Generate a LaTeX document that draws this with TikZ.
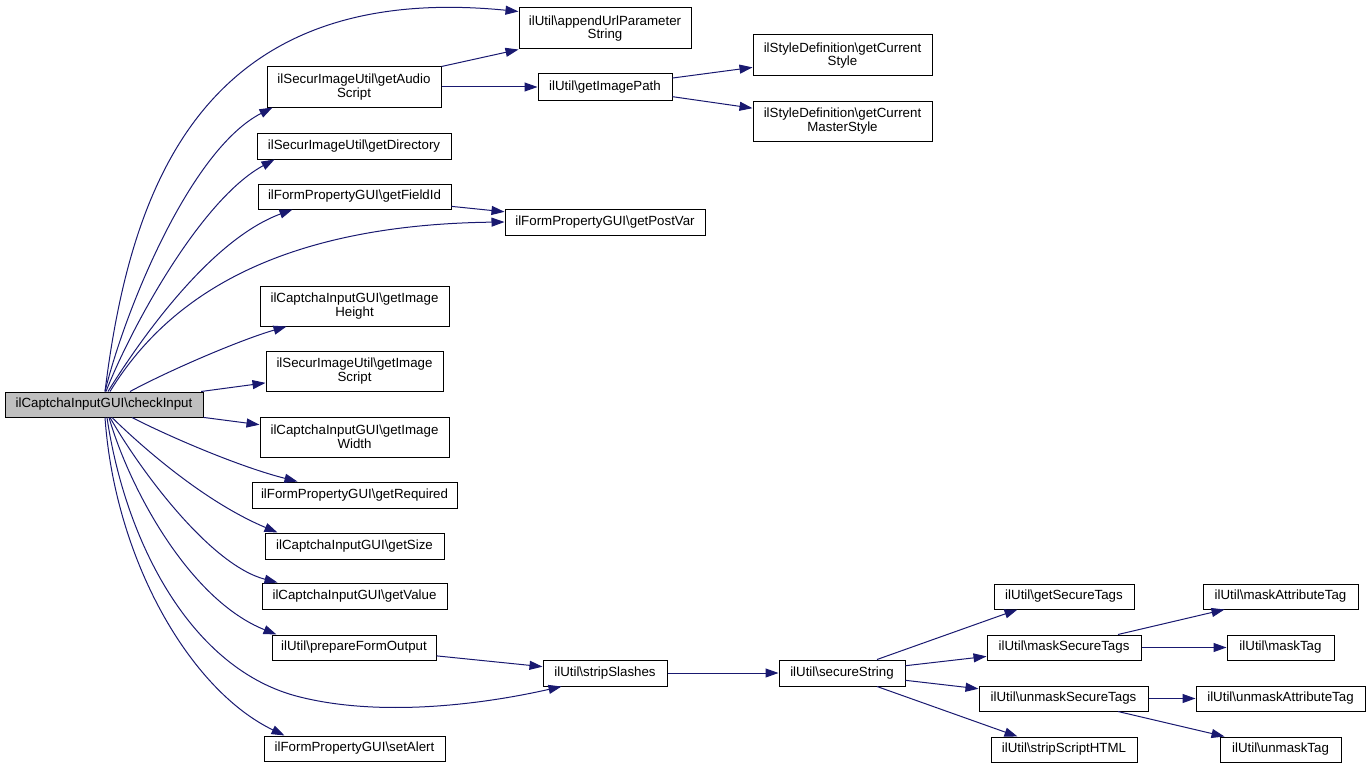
\documentclass[tikz,border=0pt]{standalone}
\usepackage{fontspec}
\setmainfont{Liberation Sans}
\usetikzlibrary{arrows.meta}
\definecolor{edgec}{HTML}{191970}
\definecolor{rootgray}{HTML}{BFBFBF}
\newcommand{\bs}{\textbackslash}
\begin{document}
\begin{tikzpicture}[x=1pt,y=-1pt,
  nbox/.style={draw=black, line width=1pt, fill=white, inner sep=0pt, align=center,
    font=\fontsize{13.3}{13.6}\selectfont},
  rootbox/.style={nbox, fill=rootgray},
  edge/.style={draw=edgec, line width=1pt, -{Triangle[length=13pt,width=9pt]}}]
\useasboundingbox (0,0) rectangle (1371,768);

% nodes
\node[rootbox, minimum width=198pt, minimum height=25pt] (root) at (104,404.5) {ilCaptchaInputGUI\bs checkInput};
\node[nbox, minimum width=172pt, minimum height=41pt] (app) at (605,28.5) {ilUtil\bs appendUrlParameter\\String};
\node[nbox, minimum width=174pt, minimum height=40pt] (aud) at (354,87) {ilSecurImageUtil\bs getAudio\\Script};
\node[nbox, minimum width=194pt, minimum height=26pt] (dir) at (354,146) {ilSecurImageUtil\bs getDirectory};
\node[nbox, minimum width=193pt, minimum height=25pt] (fid) at (354.5,196.5) {ilFormPropertyGUI\bs getFieldId};
\node[nbox, minimum width=134pt, minimum height=26pt] (imgp) at (605,87) {ilUtil\bs getImagePath};
\node[nbox, minimum width=179pt, minimum height=41pt] (cst) at (842.5,55.5) {ilStyleDefinition\bs getCurrent\\Style};
\node[nbox, minimum width=179pt, minimum height=40pt] (cms) at (842.5,121) {ilStyleDefinition\bs getCurrent\\MasterStyle};
\node[nbox, minimum width=200pt, minimum height=26pt] (pv) at (605,222) {ilFormPropertyGUI\bs getPostVar};
\node[nbox, minimum width=189pt, minimum height=40pt] (ih) at (354.5,306) {ilCaptchaInputGUI\bs getImage\\Height};
\node[nbox, minimum width=177pt, minimum height=40pt] (is) at (354.5,371) {ilSecurImageUtil\bs getImage\\Script};
\node[nbox, minimum width=189pt, minimum height=40pt] (iw) at (354.5,437) {ilCaptchaInputGUI\bs getImage\\Width};
\node[nbox, minimum width=205pt, minimum height=26pt] (req) at (354.5,495) {ilFormPropertyGUI\bs getRequired};
\node[nbox, minimum width=179pt, minimum height=26pt] (sz) at (354.5,546) {ilCaptchaInputGUI\bs getSize};
\node[nbox, minimum width=185pt, minimum height=26pt] (val) at (354.5,596) {ilCaptchaInputGUI\bs getValue};
\node[nbox, minimum width=164pt, minimum height=25pt] (pfo) at (354,647.5) {ilUtil\bs prepareFormOutput};
\node[nbox, minimum width=181pt, minimum height=25pt] (al) at (354.5,748.5) {ilFormPropertyGUI\bs setAlert};
\node[nbox, minimum width=124pt, minimum height=26pt] (ss) at (605,673) {ilUtil\bs stripSlashes};
\node[nbox, minimum width=126pt, minimum height=26pt] (sec) at (842,673) {ilUtil\bs secureString};
\node[nbox, minimum width=140pt, minimum height=25pt] (gst) at (1064,596.5) {ilUtil\bs getSecureTags};
\node[nbox, minimum width=154pt, minimum height=25pt] (mst) at (1064,647.5) {ilUtil\bs maskSecureTags};
\node[nbox, minimum width=169pt, minimum height=25pt] (ust) at (1063.5,698.5) {ilUtil\bs unmaskSecureTags};
\node[nbox, minimum width=146pt, minimum height=25pt] (ssh) at (1064,749.5) {ilUtil\bs stripScriptHTML};
\node[nbox, minimum width=155pt, minimum height=25pt] (mat) at (1280.5,596.5) {ilUtil\bs maskAttributeTag};
\node[nbox, minimum width=107pt, minimum height=25pt] (mt) at (1280.5,647.5) {ilUtil\bs maskTag};
\node[nbox, minimum width=169pt, minimum height=25pt] (uat) at (1280.5,698.5) {ilUtil\bs unmaskAttributeTag};
\node[nbox, minimum width=121pt, minimum height=25pt] (ut) at (1280.5,749.5) {ilUtil\bs unmaskTag};

% edges from root, upper side
\draw[edge] ([xshift=1pt]root.north) .. controls (130,190) and (200,-20) .. ([yshift=-4pt]app.north west);
\draw[edge] ([xshift=1pt]root.north) .. controls (125,310) and (190,150) .. ([xshift=6pt]aud.south west);
\draw[edge] ([xshift=2pt]root.north) .. controls (130,330) and (200,200) .. ([xshift=18pt]dir.south west);
\draw[edge] ([xshift=4pt]root.north) .. controls (140,340) and (210,240) .. ([xshift=35pt]fid.south west);
\draw[edge] ([xshift=6pt]root.north) .. controls (160,310) and (260,225) .. (pv.west);
\draw[edge] ([xshift=26pt]root.north) .. controls (170,370) and (240,340) .. ([xshift=27pt]ih.south west);
\draw[edge] (root) -- (is);
\draw[edge] (root) -- (iw);
% edges from root, lower side
\draw[edge] ([xshift=28pt]root.south) .. controls (170,437) and (240,467) .. ([xshift=46pt]req.north west);
\draw[edge] ([xshift=8pt]root.south) .. controls (135,440) and (200,500) .. ([xshift=13pt]sz.north west);
\draw[edge] ([xshift=6pt]root.south) .. controls (140,470) and (210,565) .. ([xshift=16pt]val.north west);
\draw[edge] ([xshift=5pt]root.south) .. controls (130,490) and (190,600) .. ([xshift=5pt]pfo.north west);
\draw[edge] ([xshift=3pt]root.south) .. controls (125,540) and (190,670) .. (300,697)
  .. controls (380,717) and (480,705) .. ([xshift=19pt]ss.south west);
\draw[edge] ([xshift=1pt]root.south) .. controls (115,560) and (190,690) .. ([xshift=21pt]al.north west);

% other edges
\draw[edge] (aud.north east) -- (app.south west);
\draw[edge] (aud) -- (imgp);
\draw[edge] (imgp) -- (cst);
\draw[edge] (imgp) -- (cms);
\draw[edge] (fid) -- (pv);
\draw[edge] (pfo) -- (ss);
\draw[edge] (ss) -- (sec);
\draw[edge] ([xshift=35pt]sec.north) -- ([xshift=24pt]gst.south west);
\draw[edge] (sec) -- (mst);
\draw[edge] (sec) -- (ust);
\draw[edge] ([xshift=35pt]sec.south) -- ([xshift=27pt]ssh.north west);
\draw[edge] ([xshift=54pt]mst.north) -- ([xshift=22pt]mat.south west);
\draw[edge] (mst) -- (mt);
\draw[edge] (ust) -- (uat);
\draw[edge] ([xshift=54.5pt]ust.south) -- ([xshift=5pt]ut.north west);
\end{tikzpicture}
\end{document}
